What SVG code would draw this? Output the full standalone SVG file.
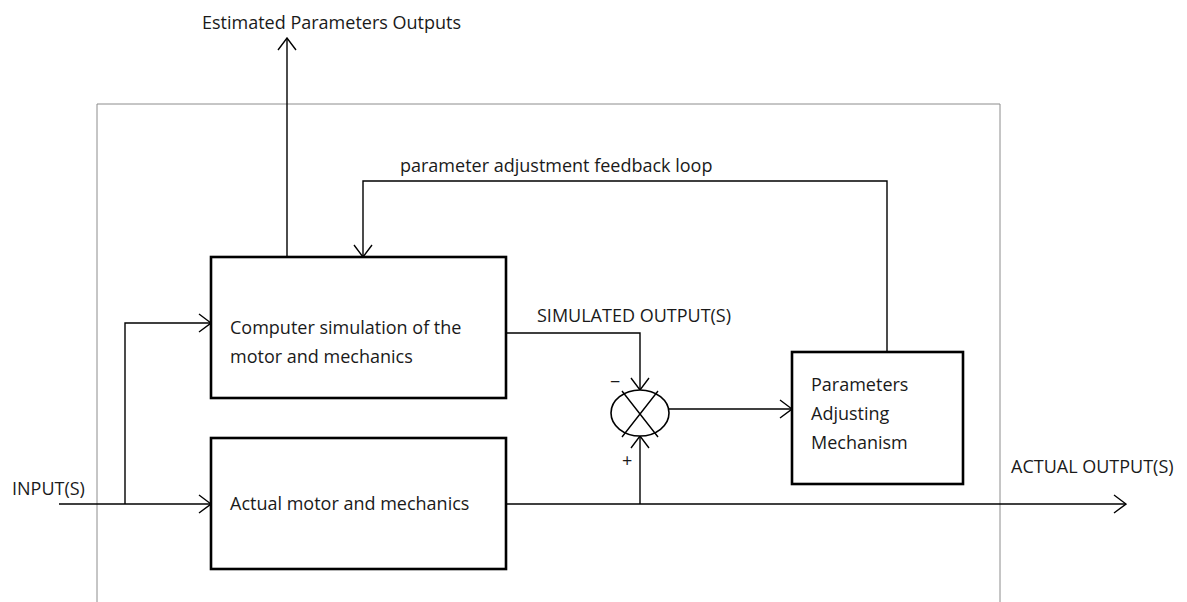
<svg xmlns="http://www.w3.org/2000/svg" width="1187" height="602" viewBox="0 0 1187 602">
  <style>
    .lbl { font-family: "Open Sans", "Noto Sans", "Liberation Sans", sans-serif; font-size: 18px; fill: #1a1a1a; }
    .sign { font-family: "Open Sans", "Noto Sans", "Liberation Sans", sans-serif; font-size: 18px; fill: #1a1a1a; }
    .box { fill: #ffffff; stroke: #000000; stroke-width: 2.6; }
    .wire { fill: none; stroke: #000000; stroke-width: 1.4; }
    .frame { fill: none; stroke: #8c8c8c; stroke-width: 1; }
  </style>
  <defs>
    <marker id="arrow" viewBox="0 0 14 20" refX="13" refY="10" markerWidth="14" markerHeight="20" markerUnits="userSpaceOnUse" orient="auto">
      <path d="M1,1 L13,10 L1,19" fill="none" stroke="#000000" stroke-width="1.4"/>
    </marker>
  </defs>

  <rect width="1187" height="602" fill="#ffffff"/>

  <!-- system boundary -->
  <path class="frame" d="M97,602 V104 H1000 V602"/>

  <!-- connectors -->
  <g id="connectors">
    <path class="wire" d="M287,257 V38" marker-end="url(#arrow)"/>
    <path class="wire" d="M887,352 V181 H363 V257" marker-end="url(#arrow)"/>
    <path class="wire" d="M59,504 H211" marker-end="url(#arrow)"/>
    <path class="wire" d="M125,504 V323 H211" marker-end="url(#arrow)"/>
    <path class="wire" d="M506,333 H640 V390" marker-end="url(#arrow)"/>
    <path class="wire" d="M506,504 H1126" marker-end="url(#arrow)"/>
    <path class="wire" d="M640,504 V436" marker-end="url(#arrow)"/>
    <path class="wire" d="M669,409 H792" marker-end="url(#arrow)"/>
  </g>

  <g id="simulation">
    <rect class="box" x="211" y="257" width="295" height="141"/>
    <text class="lbl" x="230" y="334">Computer simulation of the</text>
    <text class="lbl" x="230" y="363">motor and mechanics</text>
  </g>

  <g id="plant">
    <rect class="box" x="211" y="438" width="295" height="131"/>
    <text class="lbl" x="230" y="510">Actual motor and mechanics</text>
  </g>

  <g id="comparator">
    <ellipse cx="640" cy="413" rx="29" ry="23" fill="#ffffff" stroke="#000000" stroke-width="1.6"/>
    <path class="wire" d="M622,391 L658,437 M658,391 L622,437"/>
    <text class="sign" x="610" y="388">−</text>
    <text class="sign" x="622" y="467">+</text>
  </g>

  <g id="adjuster">
    <rect class="box" x="792" y="352" width="171" height="132"/>
    <text class="lbl" x="811" y="391">Parameters</text>
    <text class="lbl" x="811" y="420">Adjusting</text>
    <text class="lbl" x="811" y="449">Mechanism</text>
  </g>

  <g id="labels">
    <text class="lbl" x="202" y="29">Estimated Parameters Outputs</text>
    <text class="lbl" x="400" y="172">parameter adjustment feedback loop</text>
    <text class="lbl" x="537" y="322">SIMULATED OUTPUT(S)</text>
    <text class="lbl" x="12" y="495">INPUT(S)</text>
    <text class="lbl" x="1011" y="473">ACTUAL OUTPUT(S)</text>
  </g>
</svg>
